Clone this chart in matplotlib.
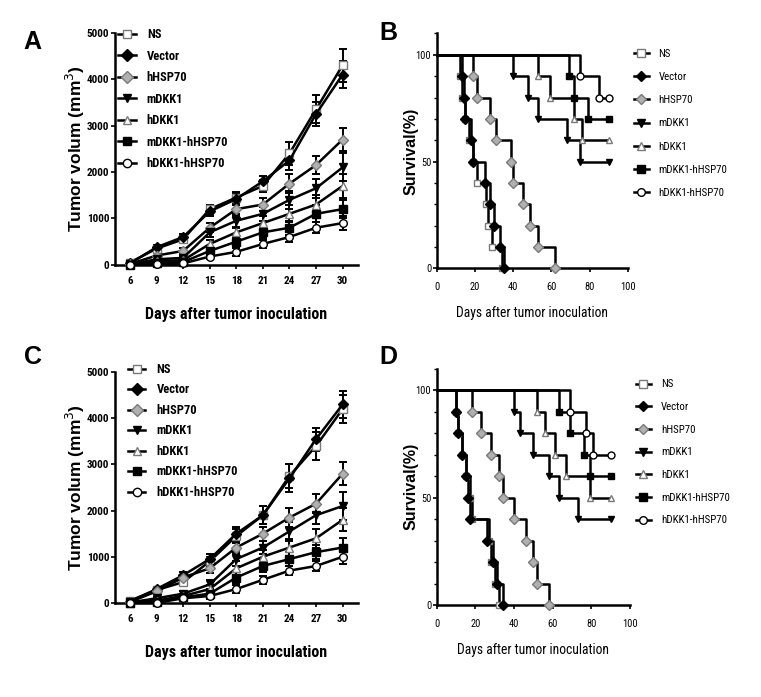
import numpy as np
import matplotlib.pyplot as plt
from matplotlib.lines import Line2D
from matplotlib.ticker import MultipleLocator

plt.rcParams['font.family'] = ['Liberation Sans', 'DejaVu Sans']
NARROW = ['Roboto Condensed', 'Archivo Narrow', 'PT Sans Narrow', 'Encode Sans Condensed', 'DejaVu Sans']

groups = ['NS', 'Vector', 'hHSP70', 'mDKK1', 'hDKK1', 'mDKK1-hHSP70', 'hDKK1-hHSP70']
days = [6, 9, 12, 15, 18, 21, 24, 27, 30]

# ---- panel A: tumor volume (mm3)
a_ns = [50, 350, 550, 1200, 1450, 1700, 2400, 3350, 4300]
a_vector = [30, 380, 600, 1150, 1420, 1800, 2250, 3250, 4100]
a_hhsp70 = [20, 200, 300, 800, 1200, 1300, 1750, 2150, 2700]
a_mdkk1 = [10, 120, 150, 700, 950, 1100, 1400, 1650, 2100]
a_hdkk1 = [10, 80, 100, 450, 700, 900, 1100, 1300, 1700]
a_mh = [0, 40, 60, 300, 500, 700, 800, 1100, 1200]
a_hh = [0, 10, 30, 180, 280, 450, 600, 800, 900]

a_ns_err = [30, 60, 80, 100, 120, 120, 250, 300, 350]
a_vector_err = [30, 50, 60, 100, 120, 120, 200, 250, 300]
a_hhsp70_err = [20, 50, 60, 100, 150, 150, 200, 200, 250]
a_mdkk1_err = [10, 40, 50, 100, 150, 150, 200, 200, 300]
a_hdkk1_err = [10, 30, 40, 80, 120, 150, 180, 200, 250]
a_mh_err = [10, 20, 30, 80, 120, 120, 150, 180, 200]
a_hh_err = [10, 20, 20, 60, 80, 80, 100, 120, 150]

# ---- panel C: tumor volume (mm3)
c_ns = [50, 280, 450, 900, 1450, 1900, 2750, 3400, 4200]
c_vector = [30, 300, 600, 950, 1500, 1900, 2700, 3550, 4300]
c_hhsp70 = [20, 250, 550, 750, 1200, 1500, 1850, 2150, 2800]
c_mdkk1 = [10, 100, 200, 400, 950, 1200, 1550, 1900, 2100]
c_hdkk1 = [0, 50, 150, 300, 750, 1000, 1200, 1400, 1800]
c_mh = [0, 20, 120, 200, 550, 800, 950, 1100, 1200]
c_hh = [0, 0, 100, 150, 300, 500, 700, 800, 1000]

c_ns_err = [30, 50, 60, 100, 150, 200, 250, 300, 300]
c_vector_err = [30, 50, 60, 100, 150, 200, 300, 250, 300]
c_hhsp70_err = [20, 40, 60, 100, 150, 150, 200, 200, 250]
c_mdkk1_err = [10, 30, 50, 100, 150, 150, 200, 200, 300]
c_hdkk1_err = [10, 30, 40, 80, 150, 150, 180, 200, 250]
c_mh_err = [10, 20, 30, 80, 120, 120, 150, 150, 200]
c_hh_err = [10, 20, 20, 60, 80, 80, 100, 100, 150]

# ---- panel B: survival, step times (days) and survival (%)
b_ns_t = [0, 12, 13, 15, 17, 19, 21, 26, 27, 29, 34]
b_ns_s = [100, 90, 80, 70, 60, 50, 40, 30, 20, 10, 0]
b_vector_t = [0, 13, 14, 15, 18, 19, 25, 28, 30, 33, 35]
b_vector_s = [100, 90, 80, 70, 60, 50, 40, 30, 20, 10, 0]
b_hhsp70_t = [0, 19, 21, 28, 31, 39, 40, 45, 49, 53, 62]
b_hhsp70_s = [100, 90, 80, 70, 60, 50, 40, 30, 20, 10, 0]
b_mdkk1_t = [0, 40, 48, 53, 68, 75, 90]
b_mdkk1_s = [100, 90, 80, 70, 60, 50, 50]
b_hdkk1_t = [0, 53, 59, 72, 76, 90]
b_hdkk1_s = [100, 90, 80, 70, 60, 60]
b_mh_t = [0, 69, 72, 79, 90]
b_mh_s = [100, 90, 80, 70, 70]
b_hh_t = [0, 75, 85, 90]
b_hh_s = [100, 90, 80, 80]

# ---- panel D: survival
d_ns_t = [0, 10, 11, 13, 15, 17, 18, 27, 28, 30, 32]
d_ns_s = [100, 90, 80, 70, 60, 50, 40, 30, 20, 10, 0]
d_vector_t = [0, 10, 11, 13, 15, 16, 17, 26, 29, 31, 34]
d_vector_s = [100, 90, 80, 70, 60, 50, 40, 30, 20, 10, 0]
d_hhsp70_t = [0, 18, 23, 28, 32, 34, 40, 46, 50, 52, 58]
d_hhsp70_s = [100, 90, 80, 70, 60, 50, 40, 30, 20, 10, 0]
d_mdkk1_t = [0, 40, 43, 50, 58, 63, 73, 90]
d_mdkk1_s = [100, 90, 80, 70, 60, 50, 40, 40]
d_hdkk1_t = [0, 52, 56, 61, 67, 79, 90]
d_hdkk1_s = [100, 90, 80, 70, 60, 50, 50]
d_mh_t = [0, 63, 69, 76, 79, 90]
d_mh_s = [100, 90, 80, 70, 60, 60]
d_hh_t = [0, 69, 77, 81, 90]
d_hh_s = [100, 90, 80, 70, 70]

GREY = '#7a7a7a'
styles = [
    dict(marker='s', mfc='white', mec=GREY),
    dict(marker='D', mfc='black', mec='black'),
    dict(marker='D', mfc='#b0b0b0', mec=GREY),
    dict(marker='v', mfc='black', mec='black'),
    dict(marker='^', mfc='white', mec=GREY),
    dict(marker='s', mfc='black', mec='black'),
    dict(marker='o', mfc='white', mec='black'),
]


def style_axes(ax, fs, weight, xpad):
    for s in ['top', 'right']:
        ax.spines[s].set_visible(False)
    for s in ['left', 'bottom']:
        ax.spines[s].set_linewidth(1.8)
    ax.tick_params(direction='out', length=3, width=1.2, pad=1)
    ax.tick_params(axis='x', pad=xpad)
    for lab in ax.get_xticklabels() + ax.get_yticklabels():
        lab.set_family(NARROW)
        lab.set_fontsize(fs)
        lab.set_fontweight(weight)


def legend(ax, anchor, spacing, fs, weight, ms):
    handles = [Line2D([], [], color='black', lw=1.8, ms=ms, **st) for st in styles]
    ax.legend(handles, groups, loc='upper left', bbox_to_anchor=anchor,
              frameon=False, borderaxespad=0, borderpad=0, handlelength=1.4,
              handletextpad=0.9, labelspacing=spacing,
              prop=dict(size=fs, weight=weight, family=NARROW))


def volume_panel(ax, series, errs, leg_anchor, leg_spacing):
    for y, e, st in zip(series, errs, styles):
        ax.errorbar(days, y, yerr=e, color='black', lw=1.8, elinewidth=1.4, ms=5.5,
                    capsize=3, capthick=1.4, zorder=3, clip_on=False, **st)
    ax.set_xlim(4.3, 31.7)
    ax.set_ylim(0, 5000)
    ax.set_xticks(days)
    ax.set_yticks([0, 1000, 2000, 3000, 4000, 5000])
    ax.set_xlabel('Days after tumor inoculation', fontsize=11.5, fontweight='bold', family=NARROW)
    ax.xaxis.set_label_coords(0.5, -0.215)
    ax.xaxis.label.set_va('center')
    ax.set_ylabel('Tumor volum (mm$^3$)', fontsize=12.5, fontweight='bold')
    ax.yaxis.set_label_coords(-0.162, 0.5)
    ax.yaxis.label.set_va('center')
    style_axes(ax, 8, 'bold', 5)
    legend(ax, leg_anchor, leg_spacing, 9, 'bold', 6)


def survival_panel(ax, times, survs, leg_anchor, leg_spacing):
    for t, s, st in zip(times, survs, styles):
        ax.step(t, s, where='post', color='black', lw=1.8, zorder=3, clip_on=False)
        ax.plot(t[1:], s[1:], ls='none', ms=5, zorder=4, clip_on=False, **st)
    ax.set_xlim(0, 100)
    ax.set_ylim(0, 110)
    ax.set_xticks([0, 20, 40, 60, 80, 100])
    ax.set_yticks([0, 50, 100])
    ax.yaxis.set_minor_locator(MultipleLocator(10))
    ax.tick_params(which='minor', direction='out', length=2, width=1)
    ax.set_xlabel('Days after tumor inoculation', fontsize=9.8, family=NARROW)
    ax.xaxis.set_label_coords(0.5, -0.19)
    ax.xaxis.label.set_va('center')
    ax.set_ylabel('Survival(%)', fontsize=11.5, fontweight='bold')
    ax.yaxis.set_label_coords(-0.135, 0.5)
    ax.yaxis.label.set_va('center')
    style_axes(ax, 7.5, 'normal', 7)
    legend(ax, leg_anchor, leg_spacing, 7.8, 'normal', 5.5)


fig = plt.figure(figsize=(7.61, 6.97), dpi=100)
axA = fig.add_axes([0.151, 0.620, 0.319, 0.333])
axB = fig.add_axes([0.574, 0.615, 0.251, 0.337])
axC = fig.add_axes([0.151, 0.135, 0.319, 0.331])
axD = fig.add_axes([0.574, 0.132, 0.254, 0.339])

volume_panel(axA,
             [a_ns, a_vector, a_hhsp70, a_mdkk1, a_hdkk1, a_mh, a_hh],
             [a_ns_err, a_vector_err, a_hhsp70_err, a_mdkk1_err, a_hdkk1_err, a_mh_err, a_hh_err],
             (0.013, 1.02), 0.68)
volume_panel(axC,
             [c_ns, c_vector, c_hhsp70, c_mdkk1, c_hdkk1, c_mh, c_hh],
             [c_ns_err, c_vector_err, c_hhsp70_err, c_mdkk1_err, c_hdkk1_err, c_mh_err, c_hh_err],
             (0.053, 1.04), 0.6)
survival_panel(axB,
               [b_ns_t, b_vector_t, b_hhsp70_t, b_mdkk1_t, b_hdkk1_t, b_mh_t, b_hh_t],
               [b_ns_s, b_vector_s, b_hhsp70_s, b_mdkk1_s, b_hdkk1_s, b_mh_s, b_hh_s],
               (1.03, 0.935), 1.22)
survival_panel(axD,
               [d_ns_t, d_vector_t, d_hhsp70_t, d_mdkk1_t, d_hdkk1_t, d_mh_t, d_hh_t],
               [d_ns_s, d_vector_s, d_hhsp70_s, d_mdkk1_s, d_hdkk1_s, d_mh_s, d_hh_s],
               (1.03, 0.955), 1.17)

for lab, x, y in [('A', 0.042, 0.940), ('B', 0.510, 0.953), ('C', 0.043, 0.488), ('D', 0.510, 0.488)]:
    fig.text(x, y, lab, fontsize=18, fontweight='bold', ha='center', va='center')

fig.savefig('out.png', dpi=100)
